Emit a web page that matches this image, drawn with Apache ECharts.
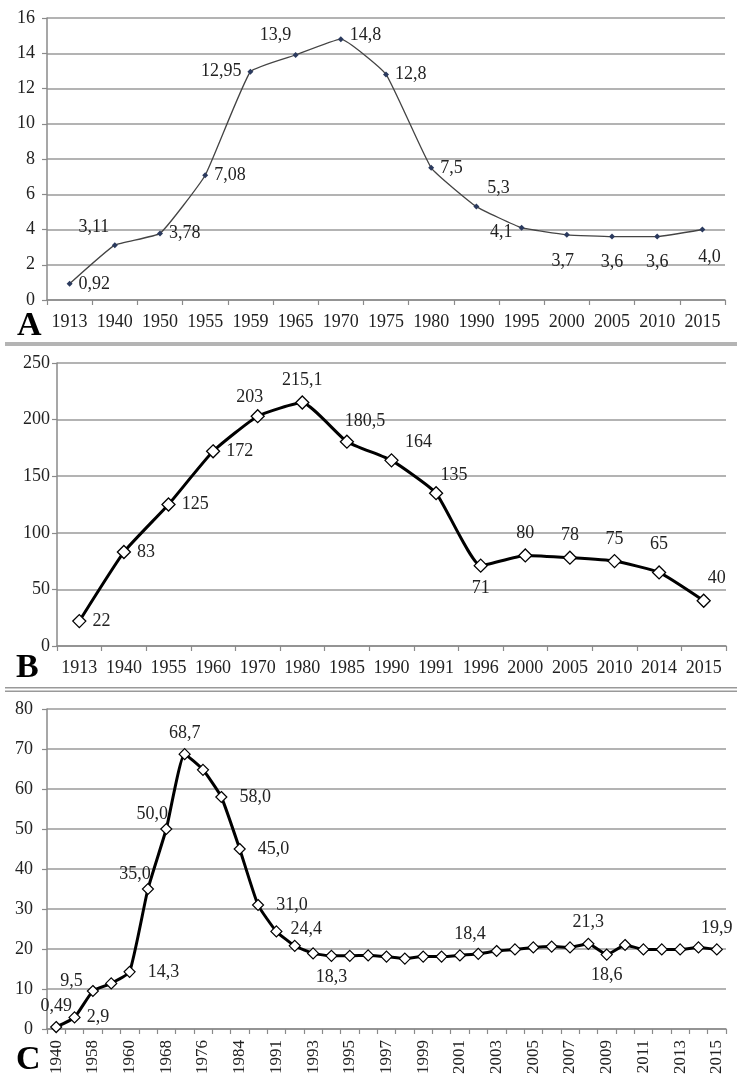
<!DOCTYPE html>
<html>
<head>
<meta charset="utf-8">
<style>
  html, body { margin: 0; padding: 0; background: #fff; }
  #chart { width: 737px; height: 1079px; }
</style>
<script src="https://cdn.jsdelivr.net/npm/echarts@6/dist/echarts.min.js"></script>
</head>
<body>
<div id="chart"></div>
<script>
// panel A
var yearsA = ['1913', '1940', '1950', '1955', '1959', '1965', '1970', '1975', '1980', '1990', '1995', '2000', '2005', '2010', '2015'];
var valuesA = [0.92, 3.11, 3.78, 7.08, 12.95, 13.9, 14.8, 12.8, 7.5, 5.3, 4.1, 3.7, 3.6, 3.6, 4.0];

// panel B
var yearsB = ['1913', '1940', '1955', '1960', '1970', '1980', '1985', '1990', '1991', '1996', '2000', '2005', '2010', '2014', '2015'];
var valuesB = [22, 83, 125, 172, 203, 215.1, 180.5, 164, 135, 71, 80, 78, 75, 65, 40];

// panel C (every other year label is shown on the axis)
var yearsC = ['1940', '1950', '1958', '1959', '1960', '1964', '1968', '1972', '1976', '1980', '1984', '1988',
  '1991', '1992', '1993', '1994', '1995', '1996', '1997', '1998', '1999', '2000', '2001', '2002', '2003',
  '2004', '2005', '2006', '2007', '2008', '2009', '2010', '2011', '2012', '2013', '2014', '2015'];
var valuesC = [0.49, 2.9, 9.5, 11.4, 14.3, 35.0, 50.0, 68.7, 64.8, 58.0, 45.0, 31.0,
  24.4, 20.8, 18.9, 18.3, 18.3, 18.4, 18.1, 17.6, 18.1, 18.1, 18.4, 18.8, 19.5,
  19.9, 20.4, 20.6, 20.4, 21.3, 18.6, 21.0, 19.9, 19.9, 19.9, 20.4, 19.9];

var FONT = 'Liberation Serif';

function fmt(v, d) {
  return v.toFixed(d).replace('.', ',');
}

// label placement: [position, offset, distance]
var placeA = [['right'], ['top', [-21, 0]], ['right'], ['right'], ['left'], ['top', [-20, -2]], ['right', [0, -4]],
  ['right'], ['right'], ['top', [22, 0]], ['left', [0, 5]], ['bottom', [-4, 8]], ['bottom', [0, 8]], ['bottom', [0, 8]], ['bottom', [7, 10]]];
var placeB = [['right'], ['right'], ['right'], ['right'], ['top', [-8, 3]], ['top'], ['top', [18, 2]], ['top', [27, 4]],
  ['top', [18, 4]], ['bottom'], ['top'], ['top'], ['top'], ['top', [0, -6]], ['top', [13, 0]]];
var placeC = {0: ['top'], 1: ['right'], 2: ['left', [2, -10]], 4: ['right', [0, 0], 12], 5: ['top', [-13, 6]],
  6: ['top', [-14, 6]], 7: ['top'], 9: ['right', [0, 0], 12], 10: ['right', [0, 0], 12], 11: ['right', [0, 0], 12],
  12: ['right', [0, -2], 8], 15: ['bottom'], 22: ['top', [10, 0]], 29: ['top'], 30: ['bottom'], 36: ['top']};

function labelOf(p, text) {
  return {
    show: true,
    position: p[0],
    offset: p[1] || [0, 0],
    distance: p[2] || 6,
    formatter: text
  };
}

var dataA = valuesA.map(function (v, i) {
  return { value: v, label: labelOf(placeA[i], fmt(v, i < 5 ? 2 : 1)) };
});
var dataB = valuesB.map(function (v, i) {
  return { value: v, label: labelOf(placeB[i], Number.isInteger(v) ? String(v) : fmt(v, 1)) };
});
var dataC = valuesC.map(function (v, i) {
  if (!placeC[i]) return { value: v, label: { show: false } };
  return { value: v, label: labelOf(placeC[i], fmt(v, i === 0 ? 2 : 1)) };
});

var axisCol = '#8a8a8a';
var txt = { color: '#222', fontFamily: FONT, fontSize: 18 };

function xAx(idx, data, extra) {
  var ax = {
    type: 'category', gridIndex: idx, data: data, boundaryGap: true,
    axisLine: { lineStyle: { color: axisCol, width: 1.5 } },
    axisTick: { show: true, length: 5, interval: 0, lineStyle: { color: axisCol, width: 1.2 } },
    axisLabel: Object.assign({ margin: 13, interval: 0 }, txt)
  };
  return Object.assign(ax, extra || {});
}
function yAx(idx, max, step, margin) {
  return {
    type: 'value', gridIndex: idx, min: 0, max: max, interval: step,
    axisLine: { show: true, lineStyle: { color: axisCol, width: 1.5 } },
    axisTick: { show: true, length: 5, lineStyle: { color: axisCol, width: 1.2 } },
    axisLabel: Object.assign({ margin: margin }, txt),
    splitLine: { lineStyle: { color: '#9a9a9a', width: 1.5 } }
  };
}

var chart = echarts.init(document.getElementById('chart'));
var option = {
  backgroundColor: '#fff',
  animation: false,
  grid: [
    { left: 47, right: 12, top: 18, height: 282 },
    { left: 57, right: 11, top: 363, height: 283 },
    { left: 47, right: 11, top: 709, height: 320 }
  ],
  xAxis: [
    xAx(0, yearsA),
    xAx(1, yearsB),
    xAx(2, yearsC, {
      axisLabel: Object.assign({ margin: 11, interval: 1, rotate: 90 }, txt, { fontSize: 17 })
    })
  ],
  yAxis: [
    yAx(0, 16, 2, 12),
    yAx(1, 250, 50, 7),
    yAx(2, 80, 10, 14)
  ],
  series: [
    {
      type: 'line', xAxisIndex: 0, yAxisIndex: 0, data: dataA, smooth: 0.12,
      symbol: 'diamond', symbolSize: 6,
      lineStyle: { color: '#444', width: 1.3 },
      itemStyle: { color: '#2b3a5e' },
      label: txt
    },
    {
      type: 'line', xAxisIndex: 1, yAxisIndex: 1, data: dataB, smooth: 0.15,
      symbol: 'diamond', symbolSize: 13, showAllSymbol: true,
      lineStyle: { color: '#000', width: 3 },
      itemStyle: { color: '#fff', borderColor: '#000', borderWidth: 1.3 },
      label: txt
    },
    {
      type: 'line', xAxisIndex: 2, yAxisIndex: 2, data: dataC, smooth: 0.15,
      symbol: 'diamond', symbolSize: 11, showAllSymbol: true,
      lineStyle: { color: '#000', width: 3 },
      itemStyle: { color: '#fff', borderColor: '#000', borderWidth: 1.2 },
      label: txt
    }
  ],
  graphic: [
    { type: 'rect', shape: { x: 5, y: 342, width: 732, height: 4 }, style: { fill: '#b4b4b4' } },
    { type: 'rect', shape: { x: 5, y: 687, width: 732, height: 1.5 }, style: { fill: '#999' } },
    { type: 'rect', shape: { x: 5, y: 690.5, width: 732, height: 1.5 }, style: { fill: '#999' } },
    { type: 'text', left: 17, top: 309, style: { text: 'A', font: 'bold 34px "Liberation Serif"', fill: '#000' } },
    { type: 'text', left: 16, top: 651, style: { text: 'B', font: 'bold 34px "Liberation Serif"', fill: '#000' } },
    { type: 'text', left: 16, top: 1043, style: { text: 'C', font: 'bold 34px "Liberation Serif"', fill: '#000' } }
  ]
};
chart.setOption(option);
</script>
</body>
</html>
